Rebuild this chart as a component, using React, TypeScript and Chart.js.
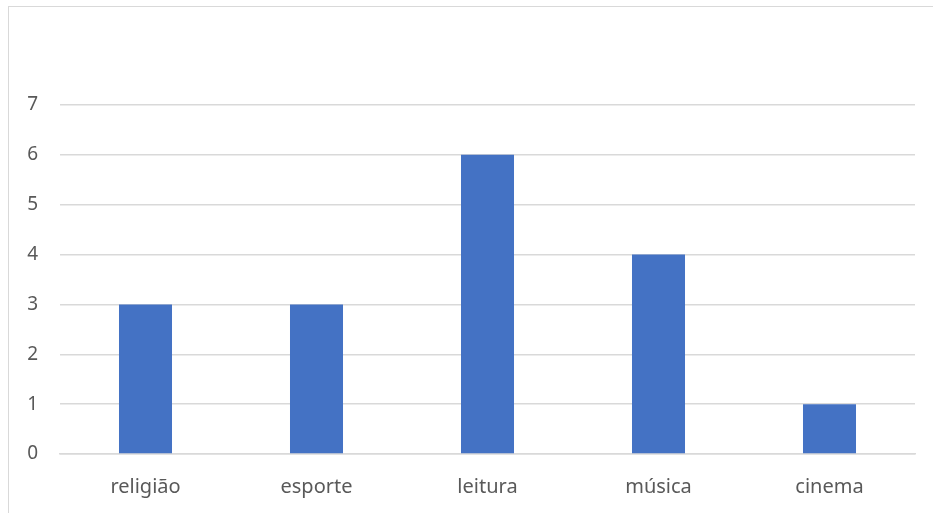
import React, { useEffect, useRef } from "react";
import { Chart, registerables } from "chart.js";

Chart.register(...registerables);

const categories = ["religião", "esporte", "leitura", "música", "cinema"];
const values = [3, 3, 6, 4, 1];
const yTicks = [0, 1, 2, 3, 4, 5, 6, 7];

export default function App() {
  const ref = useRef<HTMLCanvasElement | null>(null);

  useEffect(() => {
    if (!ref.current) return;
    const family = "'Noto Sans', sans-serif";
    const chart = new Chart(ref.current, {
      type: "bar",
      data: {
        labels: categories,
        datasets: [
          {
            data: values,
            backgroundColor: "#4472c4",
            borderWidth: 0,
            categoryPercentage: 1,
            barPercentage: 0.31,
          },
        ],
      },
      options: {
        animation: false,
        responsive: true,
        maintainAspectRatio: false,
        layout: { padding: { top: 105, right: 18, bottom: 0, left: 0 } },
        plugins: { legend: { display: false }, tooltip: { enabled: false } },
        scales: {
          x: {
            grid: { display: false },
            border: { display: true, color: "#d9d9d9", width: 1.5 },
            ticks: { color: "#595959", font: { family, size: 20 }, padding: 13, maxRotation: 0 },
            afterFit: (s: any) => {
              s.height = 59;
            },
          },
          y: {
            min: 0,
            max: 7,
            afterBuildTicks: (s: any) => {
              s.ticks = yTicks.map((v) => ({ value: v }));
            },
            grid: { color: "#d9d9d9", drawTicks: false, lineWidth: 1.5 },
            border: { display: false },
            ticks: { color: "#595959", font: { family, size: 19 }, padding: 22 },
            afterFit: (s: any) => {
              s.width = 60;
            },
          },
        },
      },
    });
    return () => chart.destroy();
  }, []);

  return (
    <div style={{ position: "fixed", left: 0, top: 0, width: 933, height: 513, background: "#fff" }}>
      <div
        style={{
          position: "absolute",
          left: 8,
          top: 6,
          width: 940,
          height: 520,
          border: "1px solid #d9d9d9",
          boxSizing: "border-box",
        }}
      />
      <div style={{ position: "absolute", left: 0, top: 0, width: 933, height: 513 }}>
        <canvas ref={ref} />
      </div>
    </div>
  );
}
